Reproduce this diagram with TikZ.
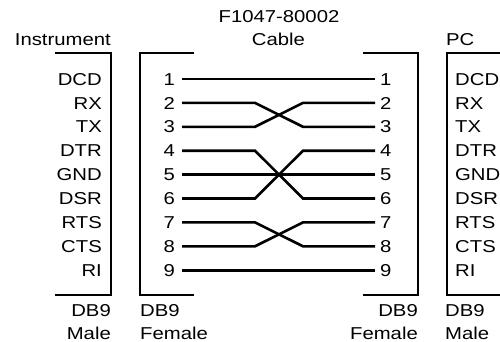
\documentclass[tikz,border=0pt]{standalone}
\usepackage{fontspec}
\setmainfont{Liberation Sans}[FakeStretch=1.18]
\usepackage{tikz}

\tikzset{
  wire/.style={line width=2.6pt},
  shell/.style={line width=2.8pt},
  lpin/.style={anchor=east,inner ysep=0pt,inner xsep=7pt,text height=12.3pt,text depth=0pt},
  rpin/.style={anchor=west,inner ysep=0pt,inner xsep=5pt,text height=12.3pt,text depth=0pt},
  isig/.style={anchor=east,inner sep=0pt,text height=12.3pt,text depth=0pt},
  psig/.style={anchor=west,inner sep=0pt,text height=12.3pt,text depth=0pt},
}

\begin{document}
\begin{tikzpicture}[x=1pt,y=-1pt,font=\fontsize{17.2pt}{20pt}\selectfont]
\useasboundingbox (0,0) rectangle (500,342);

% titles
\node[anchor=base,inner sep=0pt] (partno) at (279,23) {F1047-80002};
\node[anchor=base,inner sep=0pt] (cable) at (278.5,46) {Cable};
\node[anchor=base east,inner sep=0pt] (inst) at (111,46) {Instrument};
\node[anchor=base west,inner sep=0pt] (pc) at (446,46) {PC};

% Instrument connector
\draw[shell] (55,53) -- (111,53) -- (111,295) -- (55,295);
\node[isig] (isig1) at (102,79) {DCD};
\node[isig] (isig2) at (102,102.9) {RX};
\node[isig] (isig3) at (102,126.8) {TX};
\node[isig] (isig4) at (102,150.7) {DTR};
\node[isig] (isig5) at (102,174.6) {GND};
\node[isig] (isig6) at (102,198.5) {DSR};
\node[isig] (isig7) at (102,222.4) {RTS};
\node[isig] (isig8) at (102,246.3) {CTS};
\node[isig] (isig9) at (102,270.2) {RI};
\node[anchor=base east,inner sep=0pt] (idb) at (111,316.5) {DB9};
\node[anchor=base east,inner sep=0pt] (isex) at (111,339) {Male};

% Cable, left end
\draw[shell] (194,53) -- (140,53) -- (140,295) -- (194,295);
\node[lpin] (lpin1) at (182,79) {1};
\node[lpin] (lpin2) at (182,102.9) {2};
\node[lpin] (lpin3) at (182,126.8) {3};
\node[lpin] (lpin4) at (182,150.7) {4};
\node[lpin] (lpin5) at (182,174.6) {5};
\node[lpin] (lpin6) at (182,198.5) {6};
\node[lpin] (lpin7) at (182,222.4) {7};
\node[lpin] (lpin8) at (182,246.3) {8};
\node[lpin] (lpin9) at (182,270.2) {9};
\node[anchor=base west,inner sep=0pt] (ldb) at (140,316.5) {DB9};
\node[anchor=base west,inner sep=0pt] (lsex) at (140,339) {Female};

% Cable, right end
\draw[shell] (363,53) -- (418,53) -- (418,295) -- (363,295);
\node[rpin] (rpin1) at (375,79) {1};
\node[rpin] (rpin2) at (375,102.9) {2};
\node[rpin] (rpin3) at (375,126.8) {3};
\node[rpin] (rpin4) at (375,150.7) {4};
\node[rpin] (rpin5) at (375,174.6) {5};
\node[rpin] (rpin6) at (375,198.5) {6};
\node[rpin] (rpin7) at (375,222.4) {7};
\node[rpin] (rpin8) at (375,246.3) {8};
\node[rpin] (rpin9) at (375,270.2) {9};
\node[anchor=base east,inner sep=0pt] (rdb) at (418,316.5) {DB9};
\node[anchor=base east,inner sep=0pt] (rsex) at (418,339) {Female};

% PC connector
\draw[shell] (500,53) -- (447,53) -- (447,295) -- (500,295);
\node[psig] (psig1) at (455,79) {DCD};
\node[psig] (psig2) at (455,102.9) {RX};
\node[psig] (psig3) at (455,126.8) {TX};
\node[psig] (psig4) at (455,150.7) {DTR};
\node[psig] (psig5) at (455,174.6) {GND};
\node[psig] (psig6) at (455,198.5) {DSR};
\node[psig] (psig7) at (455,222.4) {RTS};
\node[psig] (psig8) at (455,246.3) {CTS};
\node[psig] (psig9) at (455,270.2) {RI};
\node[anchor=base west,inner sep=0pt] (pdb) at (445,316.5) {DB9};
\node[anchor=base west,inner sep=0pt] (psex) at (445,339) {Male};

% wires
\coordinate (bendl) at (255,0);
\coordinate (bendr) at (303,0);
\draw[wire] (lpin1.east) -- (rpin1.west);
\draw[wire] (lpin5.east) -- (rpin5.west);
\draw[wire] (lpin9.east) -- (rpin9.west);
\draw[wire] (lpin2.east) -- (lpin2.east -| bendl) -- (rpin3.west -| bendr) -- (rpin3.west);
\draw[wire] (lpin3.east) -- (lpin3.east -| bendl) -- (rpin2.west -| bendr) -- (rpin2.west);
\draw[wire] (lpin4.east) -- (lpin4.east -| bendl) -- (rpin6.west -| bendr) -- (rpin6.west);
\draw[wire] (lpin6.east) -- (lpin6.east -| bendl) -- (rpin4.west -| bendr) -- (rpin4.west);
\draw[wire] (lpin7.east) -- (lpin7.east -| bendl) -- (rpin8.west -| bendr) -- (rpin8.west);
\draw[wire] (lpin8.east) -- (lpin8.east -| bendl) -- (rpin7.west -| bendr) -- (rpin7.west);

\end{tikzpicture}
\end{document}
